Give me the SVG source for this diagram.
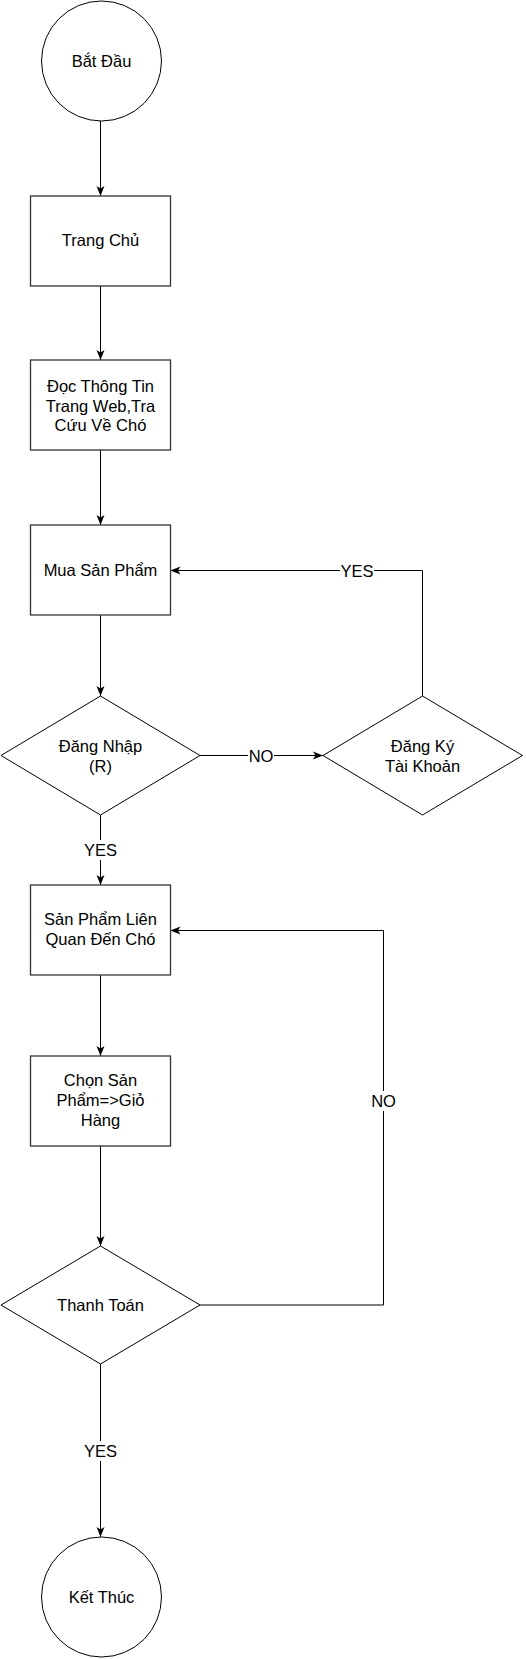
<svg xmlns="http://www.w3.org/2000/svg" width="526" height="1659" viewBox="0 0 526 1659">
<style>
.shape{fill:#fff;stroke:#000;stroke-width:1}
.box{fill:#fff;stroke:#333;stroke-width:1.3}
.t{font-family:"Liberation Sans",Arial,sans-serif;font-size:16.5px;fill:#000;text-anchor:middle}
.edge{fill:none;stroke:#000;stroke-width:1}
.lbg{fill:#fff;stroke:none}
</style>
<defs>
<marker id="arr" markerUnits="userSpaceOnUse" markerWidth="10" markerHeight="10" viewBox="0 0 10 10" refX="10" refY="5" orient="auto">
<path d="M0,1 L10,5 L0,9 L2.5,5 z" fill="#000"/>
</marker>
</defs>
<rect width="526" height="1659" fill="#fff"/>
<g id="connectors">
<line class="edge" x1="100.5" y1="121" x2="100.5" y2="196" marker-end="url(#arr)"/>
<line class="edge" x1="100.5" y1="286" x2="100.5" y2="360" marker-end="url(#arr)"/>
<line class="edge" x1="100.5" y1="450" x2="100.5" y2="525" marker-end="url(#arr)"/>
<line class="edge" x1="100.5" y1="615" x2="100.5" y2="696" marker-end="url(#arr)"/>
<line class="edge" x1="100.5" y1="815" x2="100.5" y2="885" marker-end="url(#arr)"/>
<line class="edge" x1="200" y1="755.5" x2="323" y2="755.5" marker-end="url(#arr)"/>
<polyline class="edge" points="422.5,696 422.5,570.5 170.5,570.5" marker-end="url(#arr)"/>
<line class="edge" x1="100.5" y1="975" x2="100.5" y2="1056" marker-end="url(#arr)"/>
<line class="edge" x1="100.5" y1="1146" x2="100.5" y2="1246" marker-end="url(#arr)"/>
<polyline class="edge" points="200,1305 383.5,1305 383.5,930.5 170.5,930.5" marker-end="url(#arr)"/>
<line class="edge" x1="100.5" y1="1364" x2="100.5" y2="1537" marker-end="url(#arr)"/>
<rect class="lbg" x="84" y="840" width="33" height="20"/>
<text class="t" x="100.5" y="856">YES</text>
<rect class="lbg" x="248" y="745" width="26" height="20"/>
<text class="t" x="261" y="761.5">NO</text>
<rect class="lbg" x="340" y="560" width="34" height="20"/>
<text class="t" x="357" y="576.5">YES</text>
<rect class="lbg" x="370" y="1091" width="27" height="20"/>
<text class="t" x="383.5" y="1107">NO</text>
<rect class="lbg" x="84" y="1441" width="33" height="20"/>
<text class="t" x="100.5" y="1457">YES</text>
</g>
<g id="start">
<circle class="shape" cx="101.5" cy="61" r="60"/>
<text class="t" x="101.5" y="66.5">Bắt Đầu</text>
</g>
<g id="trang-chu">
<rect class="box" x="30.5" y="196" width="140" height="90"/>
<text class="t" x="100.5" y="246">Trang Chủ</text>
</g>
<g id="doc-thong-tin">
<rect class="box" x="30.5" y="360" width="140" height="90"/>
<text class="t" x="100.5" y="391.5">Đọc Thông Tin</text>
<text class="t" x="100.5" y="411.5">Trang Web,Tra</text>
<text class="t" x="100.5" y="431">Cứu Về Chó</text>
</g>
<g id="mua-san-pham">
<rect class="box" x="30.5" y="525" width="140" height="90"/>
<text class="t" x="100.5" y="576">Mua Sản Phẩm</text>
</g>
<g id="dang-nhap">
<polygon class="shape" points="100.5,696 200,755.5 100.5,815 1,755.5"/>
<text class="t" x="100.5" y="751.5">Đăng Nhập</text>
<text class="t" x="100.5" y="771.5">(R)</text>
</g>
<g id="dang-ky">
<polygon class="shape" points="422.5,696 522.5,755.5 422.5,815 323,755.5"/>
<text class="t" x="422.5" y="751.5">Đăng Ký</text>
<text class="t" x="422.5" y="771.5">Tài Khoản</text>
</g>
<g id="san-pham-lien-quan">
<rect class="box" x="30.5" y="885" width="140" height="90"/>
<text class="t" x="100.5" y="925">Sản Phẩm Liên</text>
<text class="t" x="100.5" y="945">Quan Đến Chó</text>
</g>
<g id="chon-san-pham">
<rect class="box" x="30.5" y="1056" width="140" height="90"/>
<text class="t" x="100.5" y="1086">Chọn Sản</text>
<text class="t" x="100.5" y="1106">Phẩm=&gt;Giỏ</text>
<text class="t" x="100.5" y="1126">Hàng</text>
</g>
<g id="thanh-toan">
<polygon class="shape" points="100.5,1246 200,1305 100.5,1364 1,1305"/>
<text class="t" x="100.5" y="1311">Thanh Toán</text>
</g>
<g id="end">
<circle class="shape" cx="101.5" cy="1597" r="60"/>
<text class="t" x="101.5" y="1602.5">Kết Thúc</text>
</g>
</svg>
